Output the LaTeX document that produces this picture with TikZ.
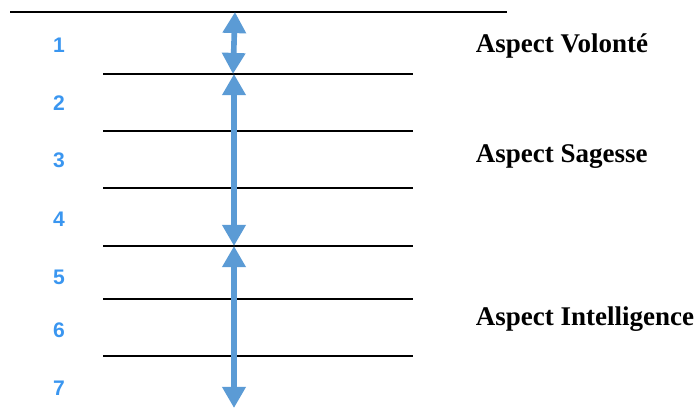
\documentclass[tikz,border=0pt]{standalone}
\usepackage{fontspec}
\setmainfont{Liberation Serif}
\newfontfamily\numfont{Liberation Sans}
\usetikzlibrary{arrows.meta}
\definecolor{levelblue}{HTML}{3A96F0}
\definecolor{arrowblue}{HTML}{5B9BD5}
\tikzset{levelline/.style={line width=0.9pt,black},
  levelnum/.style={text=levelblue,font=\numfont\bfseries\fontsize{15}{15}\selectfont},
  aspect/.style={anchor=west,font=\bfseries\fontsize{19.2}{20}\selectfont},
  span/.style={arrowblue,line width=4pt,{Triangle[width=16pt,length=15pt]}-{Triangle[width=16pt,length=15pt]}}}

\begin{document}
\begin{tikzpicture}[x=0.025cm,y=-0.025cm]
                  \useasboundingbox (0,0) rectangle (700,410);
                  \draw[levelline] (10,12) -- (507,12);
                  \draw[levelline] (103,74) -- (413,74);
                  \draw[levelline] (103,131) -- (413,131);
                  \draw[levelline] (103,188) -- (413,188);
                  \draw[levelline] (103,246) -- (413,246);
                  \draw[levelline] (103,299) -- (413,299);
                  \draw[levelline] (103,356) -- (413,356);
                  \node[levelnum] (n1) at (59,45) {1};
                  \node[levelnum] (n2) at (59,103) {2};
                  \node[levelnum] (n3) at (59,160) {3};
                  \node[levelnum] (n4) at (59,219) {4};
                  \node[levelnum] (n5) at (59,277) {5};
                  \node[levelnum] (n6) at (59,330) {6};
                  \node[levelnum] (n7) at (59,388) {7};
                  \coordinate (top) at (235,12);
                  \coordinate (volbot) at (233,74);
                  \coordinate (sagtop) at (234,74);
                  \coordinate (sagbot) at (234,246);
                  \coordinate (bottom) at (234,408);
                  \draw[span] (top) -- (volbot);
                  \draw[span] (sagtop) -- (sagbot);
                  \draw[span] (sagbot) -- (bottom);
                  \node[aspect] (volonte) at (471,46) {Aspect Volonté};
                  \node[aspect] (sagesse) at (471,157) {Aspect Sagesse};
                  \node[aspect] (intel) at (471,319) {Aspect Intelligence};
              \end{tikzpicture}
\end{document}
